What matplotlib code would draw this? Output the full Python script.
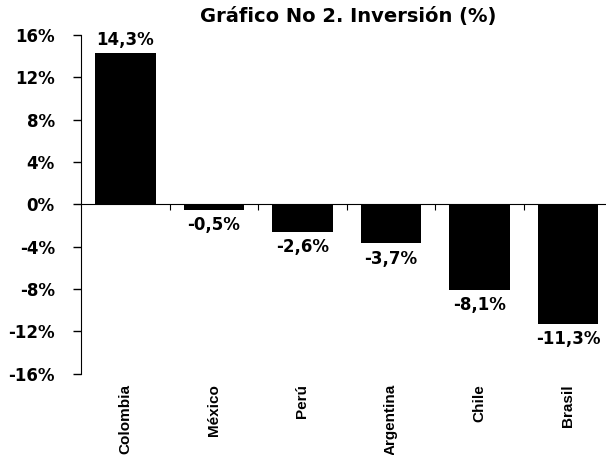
import numpy as np
import matplotlib
matplotlib.use("Agg")
import matplotlib.pyplot as plt
from matplotlib.ticker import FuncFormatter

paises = ["Colombia", "México", "Perú", "Argentina", "Chile", "Brasil"]
inversion = [14.3, -0.5, -2.6, -3.7, -8.1, -11.3]
etiquetas = ["14,3%", "-0,5%", "-2,6%", "-3,7%", "-8,1%", "-11,3%"]

plt.rcParams['font.family'] = ['DejaVu Sans']

fig = plt.figure(figsize=(6.06, 4.55), dpi=100)
# el eje se sale un poco por la derecha, como en el original
ax = fig.add_axes([0.134, 0.179, 0.866, 0.744])

x = np.arange(len(paises))
ax.bar(x, inversion, width=0.68, color='black')

# etiquetas de datos
for xi, v, t in zip(x, inversion, etiquetas):
    if v >= 0:
        ax.text(xi, v + 0.35, t, ha='center', va='bottom', fontsize=12, fontweight='bold')
    else:
        ax.text(xi, v - 0.6, t, ha='center', va='top', fontsize=12, fontweight='bold')

ax.set_xlim(-0.5, 5.43)
ax.set_ylim(-16, 16)
ax.set_yticks(np.arange(-16, 17, 4))
ax.yaxis.set_major_formatter(FuncFormatter(lambda v, p: f"{v:.0f}%"))
ax.tick_params(axis='y', direction='out', length=6, width=1, labelsize=12, pad=13)
for lb in ax.get_yticklabels():
    lb.set_fontweight('bold')

# eje x en cero, con marcas entre categorias
ax.spines['bottom'].set_position(('data', 0))
ax.spines['top'].set_visible(False)
ax.spines['right'].set_visible(False)
ax.set_xticks(x[:-1] + 0.5)
ax.set_xticklabels([])
ax.tick_params(axis='x', direction='out', length=4)
for xi, p in zip(x, paises):
    ax.text(xi, -17.0, p, rotation=90, ha='center', va='top', fontsize=11,
            fontweight='bold', family='Liberation Sans')

fig.text(0.574, 0.963, "Gráfico No 2. Inversión (%)", ha='center', va='center',
         fontsize=14, fontweight='bold')

fig.savefig("out.png", dpi=100)
